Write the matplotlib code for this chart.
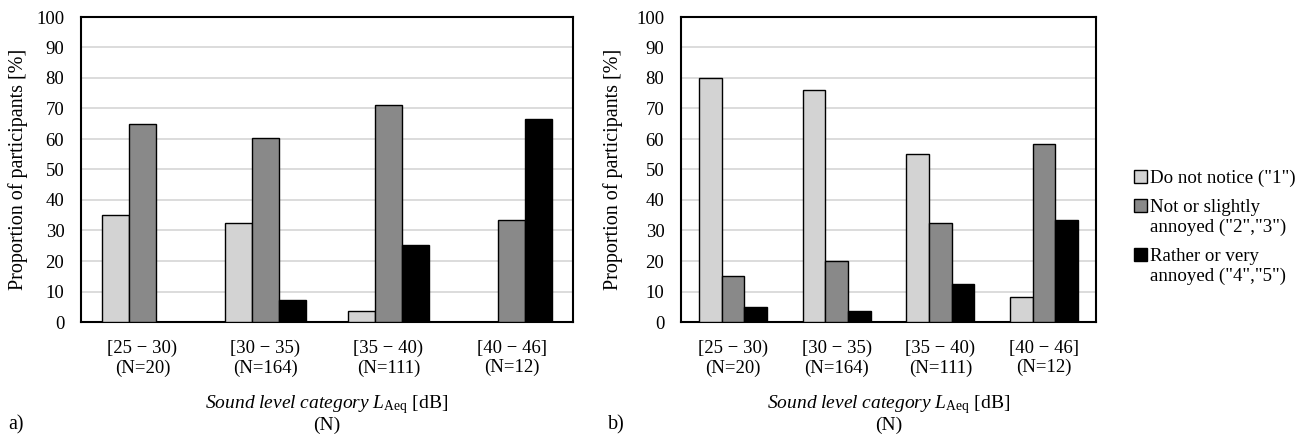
import matplotlib
matplotlib.use('Agg')
from matplotlib import pyplot as plt
import numpy as np

plt.rcParams['font.family'] = ['Liberation Serif', 'DejaVu Serif']
plt.rcParams['font.size'] = 13.5
plt.rcParams['mathtext.fontset'] = 'custom'
plt.rcParams['mathtext.rm'] = 'Liberation Serif'
plt.rcParams['mathtext.it'] = 'Liberation Serif:italic'

categories = ["[25 \u2212 30)\n(N=20)", "[30 \u2212 35)\n(N=164)",
              "[35 \u2212 40)\n(N=111)", "[40 \u2212 46]\n(N=12)"]
series_names = ['Do not notice ("1")',
                'Not or slightly\nannoyed ("2","3")',
                'Rather or very\nannoyed ("4","5")']
colors = ["#d3d3d3", "#898989", "#000000"]

# panel a)
a_notice = [35.0, 32.3, 3.6, 0.0]
a_slight = [65.0, 60.4, 71.2, 33.3]
a_annoyed = [0.0, 7.3, 25.2, 66.7]

# panel b)
b_notice = [80.0, 76.2, 55.0, 8.3]
b_slight = [15.0, 20.1, 32.4, 58.3]
b_annoyed = [5.0, 3.7, 12.6, 33.3]


def draw_panel(ax, series, bar_w, ylab_x):
    x = np.arange(len(categories))
    for i, (vals, c, name) in enumerate(zip(series, colors, series_names)):
        ax.bar(x + (i - 1) * bar_w, vals, bar_w, color=c, edgecolor="black",
               linewidth=1.0, label=name, zorder=3)
    ax.set_xlim(-0.5, len(categories) - 0.5)
    ax.set_ylim(0, 100)
    ax.set_yticks(np.arange(0, 101, 10))
    ax.set_xticks(x)
    ax.set_xticklabels(categories, linespacing=1.15)
    ax.tick_params(axis='y', length=0, pad=12)
    ax.tick_params(axis='x', length=0, pad=13)
    ax.yaxis.grid(True, color="#d9d9d9", linewidth=1.3, zorder=0)
    ax.set_axisbelow(True)
    for sp in ax.spines.values():
        sp.set_linewidth(1.5)
        sp.set_color("black")
    ax.set_ylabel("Proportion of participants [%]", fontsize=14.5)
    ax.yaxis.set_label_coords(ylab_x, 0.5)
    ax.set_xlabel(r"$\mathit{Sound\ level\ category\ L}_{\mathrm{Aeq}}$ [dB]" + "\n(N)",
                  fontsize=14, labelpad=12, linespacing=1.05)


fig = plt.figure(figsize=(13.09, 4.4), dpi=100)
ax1 = fig.add_axes([81 / 1309, 118 / 440, 492 / 1309, 305 / 440])
ax2 = fig.add_axes([681 / 1309, 118 / 440, 415 / 1309, 305 / 440])

draw_panel(ax1, [a_notice, a_slight, a_annoyed], 0.222, -0.108)
draw_panel(ax2, [b_notice, b_slight, b_annoyed], 0.219, -0.14)

handles, labels = ax2.get_legend_handles_labels()
leg = fig.legend(handles, labels, loc='upper left',
                 bbox_to_anchor=(1134 / 1309, 1 - 170 / 440),
                 bbox_transform=fig.transFigure, frameon=False,
                 handlelength=0.7, handleheight=0.7, handletextpad=0.15,
                 labelspacing=0.6, borderaxespad=0, borderpad=0, fontsize=13.6)
for t in leg.get_texts():
    t.set_linespacing(1.25)
# put each swatch beside the first line of its label
for col in leg._legend_handle_box.get_children():
    for item in col.get_children():
        item.align = "top"

fig.text(8 / 1309, 1 - 425 / 440, "a)", fontsize=14.5, va='center')
fig.text(608 / 1309, 1 - 425 / 440, "b)", fontsize=14.5, va='center')

fig.savefig("out.png", dpi=100)
